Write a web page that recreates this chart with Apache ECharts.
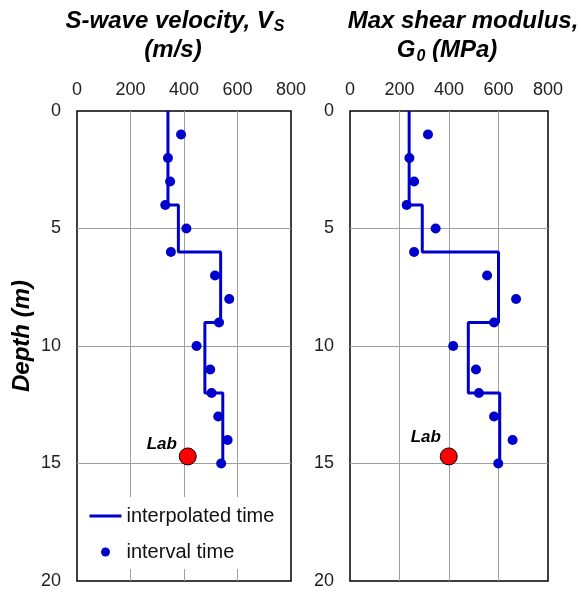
<!DOCTYPE html>
<html><head><meta charset="utf-8">
<script src="https://cdn.jsdelivr.net/npm/echarts@6/dist/echarts.min.js"></script>
<style>html,body{margin:0;padding:0;background:#fff}#c{width:581px;height:593px}</style>
</head><body><div id="c"></div>
<script>
// ---- data ----
const depthTicks = [0, 5, 10, 15, 20];
const xTicks = [0, 200, 400, 600, 800];
const intervalDepths = [1, 2, 3, 4, 5, 6, 7, 8, 9, 10, 11, 12, 13, 14, 15];
const vsInterval = [389, 340, 348, 330, 409, 351, 516, 569, 531, 447, 498, 503, 528, 563, 539];
const g0Interval = [315, 240, 259, 229, 346, 259, 554, 671, 582, 417, 509, 521, 582, 657, 599];
const layerTop = [0, 4, 6, 9, 12];
const layerBottom = [4, 6, 9, 12, 15];
const vsLayer = [340, 379, 537, 478, 545];
const g0Layer = [239, 292, 600, 478, 605];
const labDepth = 14.7;
const vsLab = 414;
const g0Lab = 399;
const legendNames = ['interpolated time', 'interval time'];

// ---- build ----
const FF = '"Liberation Sans", Arial, sans-serif';
const BLUE = '#0000cd';
function stepPoints(vals) {
  const pts = [];
  vals.forEach((v, i) => { pts.push([v, layerTop[i]]); pts.push([v, layerBottom[i]]); });
  return pts;
}
function pairs(vals) { return intervalDepths.map((d, i) => [vals[i], d]); }

function xAxisCfg(gi) {
  return {
    gridIndex: gi, type: 'value', position: 'top',
    min: xTicks[0], max: xTicks[xTicks.length - 1], interval: xTicks[1] - xTicks[0],
    axisLine: { show: false }, axisTick: { show: false },
    axisLabel: { fontSize: 18, color: '#222', margin: 12, fontFamily: FF },
    splitLine: { show: true, showMinLine: false, showMaxLine: false, lineStyle: { color: '#a0a0a0', width: 1 } }
  };
}
function yAxisCfg(gi) {
  return {
    gridIndex: gi, type: 'value', inverse: true,
    min: depthTicks[0], max: depthTicks[depthTicks.length - 1], interval: depthTicks[1] - depthTicks[0],
    axisLine: { show: false }, axisTick: { show: false },
    axisLabel: { fontSize: 18, color: '#222', margin: 16, fontFamily: FF },
    splitLine: { show: true, showMinLine: false, showMaxLine: false, lineStyle: { color: '#a0a0a0', width: 1 } }
  };
}
function seriesFor(gi, layer, interval, labVal, labOffset) {
  return [
    { name: legendNames[0], type: 'line', xAxisIndex: gi, yAxisIndex: gi, data: stepPoints(layer),
      symbol: 'none', lineStyle: { color: BLUE, width: 3 }, itemStyle: { color: BLUE }, z: 3 },
    { name: legendNames[1], type: 'scatter', xAxisIndex: gi, yAxisIndex: gi, data: pairs(interval),
      symbolSize: 10, itemStyle: { color: BLUE, opacity: 1 }, z: 4 },
    { name: 'Lab', type: 'scatter', xAxisIndex: gi, yAxisIndex: gi, data: [[labVal, labDepth]],
      symbolSize: 17, itemStyle: { color: '#ff0000', borderColor: '#000', borderWidth: 1, opacity: 1 }, z: 5,
      label: { show: true, formatter: 'Lab', position: 'top', offset: labOffset,
        fontSize: 17, fontWeight: 'bold', fontStyle: 'italic', color: '#000', fontFamily: FF } }
  ];
}

const titleRich = {
  m: { fontSize: 24, fontWeight: 'bold', fontStyle: 'italic', fontFamily: FF, fill: '#000', color: '#000' },
  s: { fontSize: 16, fontWeight: 'bold', fontStyle: 'italic', fontFamily: FF, fill: '#000', color: '#000', padding: [11, 0, 0, 1] },
  s2: { fontSize: 16, fontWeight: 'bold', fontStyle: 'italic', fontFamily: FF, fill: '#000', color: '#000', padding: [14, 0, 0, 1] }
};
function tText(x, y, text) {
  return { type: 'text', x: x, y: y, z: 10,
    style: { text: text, rich: titleRich, fill: '#000', textAlign: 'center', textVerticalAlign: 'middle',
      font: 'italic bold 24px ' + FF } };
}

const option = {
  animation: false,
  backgroundColor: '#fff',
  grid: [
    { left: 77, top: 111, width: 214, height: 470, show: true, borderColor: '#000', borderWidth: 1.5, backgroundColor: 'transparent' },
    { left: 350, top: 111, width: 198, height: 470, show: true, borderColor: '#000', borderWidth: 1.5, backgroundColor: 'transparent' }
  ],
  xAxis: [xAxisCfg(0), xAxisCfg(1)],
  yAxis: [yAxisCfg(0), yAxisCfg(1)],
  legend: {
    data: [
      { name: legendNames[0], itemStyle: { opacity: 0 }, lineStyle: { width: 3, color: BLUE } },
      { name: legendNames[1] }
    ],
    orient: 'vertical', left: 78, top: 497,
    itemWidth: 32, itemHeight: 9, itemGap: 16,
    backgroundColor: '#fff', padding: [9, 8, 7, 10],
    textStyle: { fontSize: 20, color: '#111', fontFamily: FF }
  },
  series: [].concat(
    seriesFor(0, vsLayer, vsInterval, vsLab, [-26, 10]),
    seriesFor(1, g0Layer, g0Interval, g0Lab, [-23, 3])
  ),
  graphic: [
    tText(175, 21, '{m|S-wave velocity, V}{s|S}'),
    tText(173, 50, '{m|(m/s)}'),
    tText(463, 21, '{m|Max shear modulus,}'),
    tText(447, 50, '{m|G}{s2|0}{m| (MPa)}'),
    { type: 'text', x: 22, y: 336, rotation: Math.PI / 2, z: 10,
      style: { text: 'Depth (m)', fill: '#000', textAlign: 'center', textVerticalAlign: 'middle',
        font: 'italic bold 24px ' + FF } }
  ]
};
const chart = echarts.init(document.getElementById('c'), null, { renderer: 'canvas' });
chart.setOption(option);
</script></body></html>
